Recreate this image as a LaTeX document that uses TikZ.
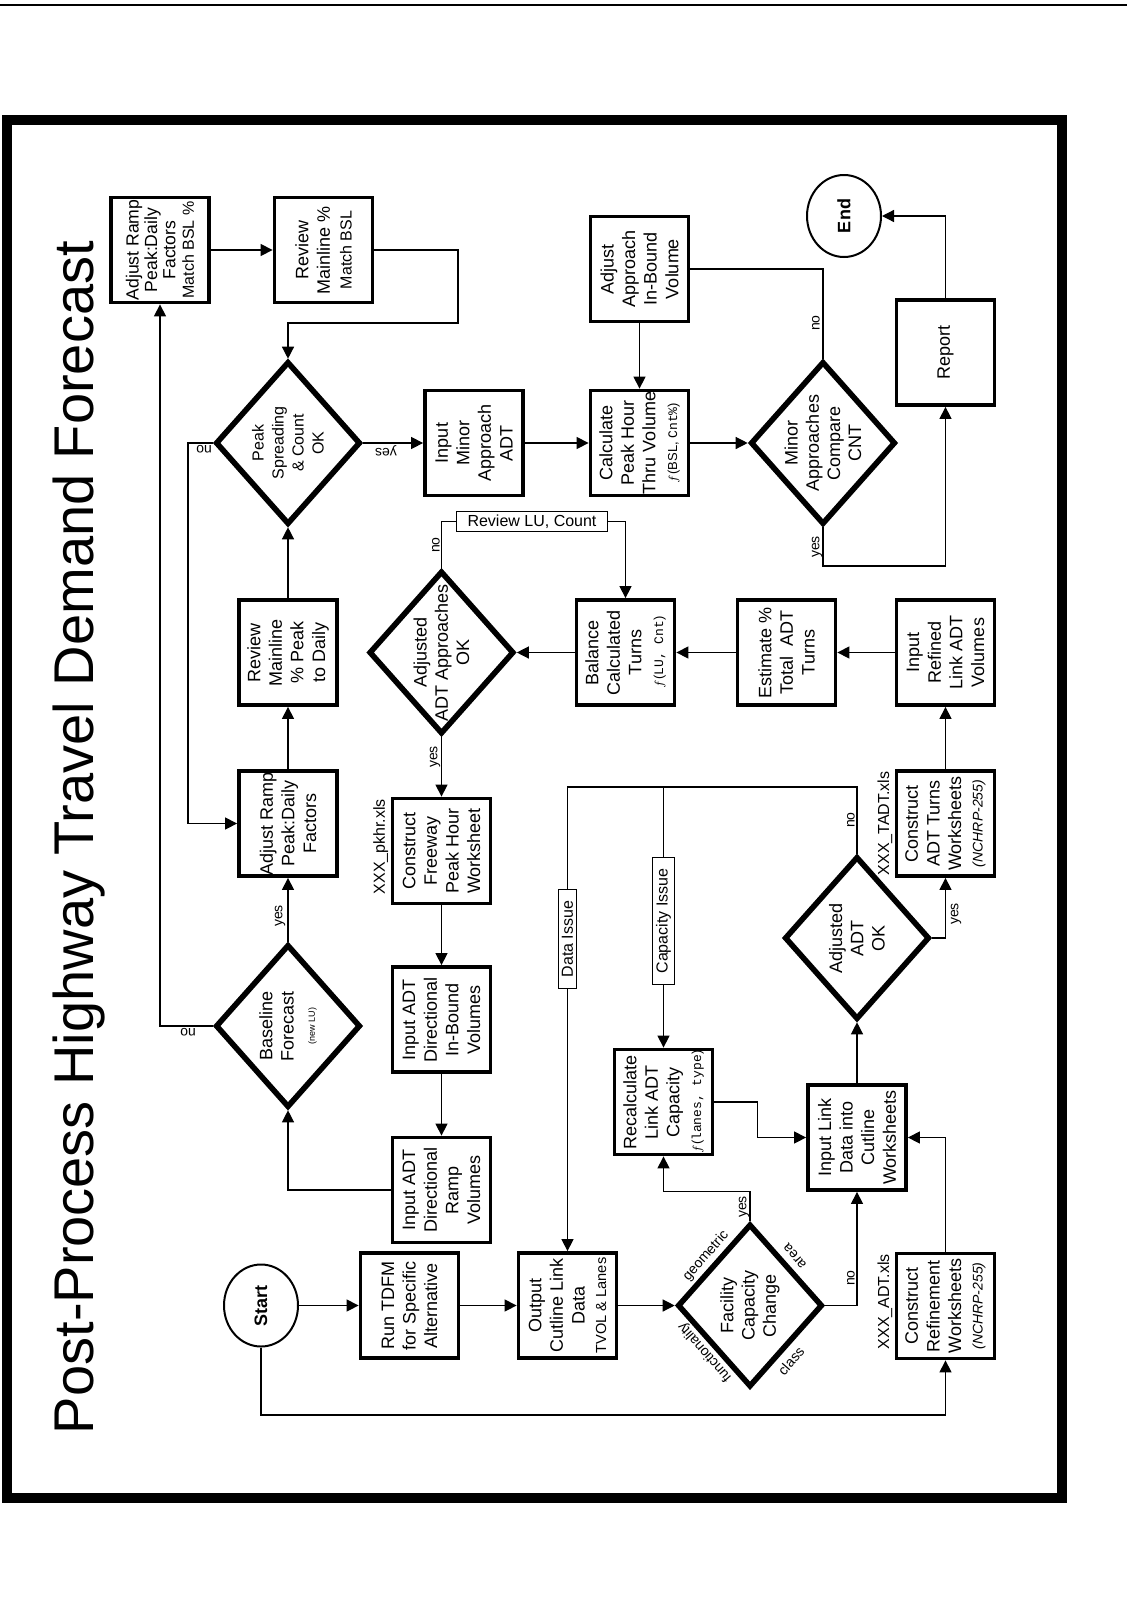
\documentclass[tikz,border=0pt]{standalone}
\usepackage{fontspec}
\setmainfont{Liberation Sans}
\setmonofont{Liberation Mono}
\usetikzlibrary{arrows.meta,shapes.geometric}

\begin{document}
\begin{tikzpicture}[x=0.5pt,y=-0.5pt,
  proc/.style={draw,line width=1.9pt,rotate=90,minimum width=52.5pt,minimum height=49pt,
    inner sep=0pt,align=center,font=\fontsize{9}{10.8}\selectfont},
  decision/.style={draw,diamond,line width=2.8pt,rotate=90,minimum width=81.5pt,
    minimum height=72.5pt,inner sep=0pt},
  dtext/.style={rotate=90,align=center,font=\fontsize{9}{10.6}\selectfont},
  terminal/.style={draw,ellipse,line width=1pt,rotate=90,minimum width=41pt,
    minimum height=37pt,inner sep=0pt,font=\fontsize{9}{10}\selectfont\bfseries},
  issue/.style={draw,line width=0.5pt,fill=white,inner xsep=5.5pt,inner ysep=1.6pt,
    font=\fontsize{8}{9.6}\selectfont},
  yn/.style={font=\fontsize{7}{8}\selectfont,inner sep=0pt},
  edgetxt/.style={font=\fontsize{7}{8}\selectfont,inner sep=0pt},
  xlsname/.style={rotate=90,anchor=south east,inner sep=1pt,font=\fontsize{8}{9.6}\selectfont},
  wire/.style={line width=0.65pt},
  arr/.style={wire,-{Triangle[length=6pt,width=6pt]}}]

\fill[white] (0,0) rectangle (1127,1606);
\useasboundingbox (0,0) rectangle (1127,1606);

\draw[line width=1pt] (0,5) -- (1127,5);
\draw[line width=5.2pt] (7,120) rectangle (1062,1498);

\node[rotate=90,anchor=base,inner sep=0pt,font=\fontsize{28}{32}\selectfont] (title)
  at (93,837.5) {Post-Process Highway Travel Demand Forecast};

% first row
\node[terminal] (start) at (261,1305.5) {Start};
\node[proc] (run) at (409.5,1305.5) {Run TDFM\\for Specific\\Alternative};
\node[proc] (cutline) at (567.5,1305.5) {Output\\Cutline Link\\Data\\{\fontsize{7.3}{8.5}\selectfont TVOL \& Lanes}};
\node[decision] (facil) at (750,1305.5) {};
\node[dtext] (facilT) at (facil) {Facility\\Capacity\\Change};
\node[proc] (refine) at (945.5,1306) {Construct\\Refinement\\Worksheets\\{\fontsize{7}{8}\selectfont\itshape (NCHRP-255)}};
\node[xlsname] (refineF) at (refine.north east) {XXX\_ADT.xls};

\node[edgetxt,rotate=49] (geo) at (706,1256) {geometric};
\node[edgetxt,rotate=131] (func) at (705,1352) {functionality};
\node[edgetxt,rotate=131] (area) at (795,1256) {area};
\node[edgetxt,rotate=49] (class) at (791,1361) {class};

% second row
\node[proc] (ramp) at (441.5,1190) {Input ADT\\Directional\\Ramp\\Volumes};
\node[proc] (recalc) at (663.5,1102) {Recalculate\\Link ADT\\Capacity\\{\fontsize{6.5}{7.8}\selectfont$f$(\texttt{lanes, type})}};
\node[proc] (inlink) at (857,1137.5) {Input Link\\Data into\\Cutline\\Worksheets};
\node[decision] (base) at (288,1026) {};
\node[dtext] (baseT) at (base) {Baseline\\Forecast\\{\fontsize{4.5}{5.5}\selectfont (new LU)}};
\node[proc] (inbound) at (441.5,1019.5) {Input ADT\\Directional\\In-Bound\\Volumes};
\node[issue,rotate=90] (dataiss) at (567.5,939) {Data Issue};
\node[issue,rotate=90] (capiss) at (663.5,921) {Capacity Issue};
\node[decision] (adjok) at (857,938) {};
\node[dtext] (adjokT) at (adjok) {Adjusted\\ADT\\OK};

% third row
\node[proc] (adjlow) at (288,823.5) {Adjust Ramp\\Peak:Daily\\Factors};
\node[proc] (freeway) at (441.5,851) {Construct\\Freeway\\Peak Hour\\Worksheet};
\node[xlsname] (freewayF) at (freeway.north east) {XXX\_pkhr.xls};
\node[proc] (turns) at (945.5,823.5) {Construct\\ADT Turns\\Worksheets\\{\fontsize{7}{8}\selectfont\itshape (NCHRP-255)}};
\node[xlsname] (turnsF) at (turns.north east) {XXX\_TADT.xls};

% fourth row
\node[proc] (revpk) at (288,652.5) {Review\\Mainline\\\% Peak\\to Daily};
\node[decision] (adjap) at (441.5,652.5) {};
\node[dtext] (adjapT) at (adjap) {Adjusted\\ADT Approaches\\OK};
\node[proc] (balance) at (625.5,652.5) {Balance\\Calculated\\Turns\\{\fontsize{6.5}{7.8}\selectfont$f$(\texttt{LU, Cnt})}};
\node[proc] (estim) at (786.5,652.5) {Estimate \%\\Total~ ADT\\Turns};
\node[proc] (refined) at (945.5,652.5) {Input\\Refined\\Link ADT\\Volumes};
\node[issue] (revlu) at (532,521.5) {Review LU, Count};

% fifth row
\node[decision] (peak) at (288,443) {};
\node[dtext,font=\fontsize{8}{10}\selectfont] (peakT) at (peak) {Peak\\Spreading\\\& Count\\OK};
\node[proc] (minor) at (474,443) {Input\\Minor\\Approach\\ADT};
\node[proc] (calc) at (639.5,443) {Calculate\\Peak Hour\\Thru Volume\\{\fontsize{6.5}{7.8}\selectfont$f$(BSL, \texttt{Cnt\%})}};
\node[decision] (minap) at (823,443) {};
\node[dtext] (minapT) at (minap) {Minor\\Approaches\\Compare\\CNT};
\node[proc] (report) at (945.5,352.5) {Report};

% top row
\node[proc,font=\fontsize{8.8}{9.2}\selectfont] (adjtop) at (160,250) {Adjust Ramp\\Peak:Daily\\Factors\\{\fontsize{8}{9}\selectfont Match BSL~\%}};
\node[proc] (revbsl) at (323.5,250) {Review\\Mainline \%\\{\fontsize{8}{9.6}\selectfont Match BSL}};
\node[proc] (adjapp) at (639.5,269) {Adjust\\Approach\\In-Bound\\Volume};
\node[terminal] (finish) at (844,216) {End};

\coordinate (startdn) at (261,1415);
\coordinate (rvturn) at (458,323);
\coordinate (nojoin) at (567.5,787);
\coordinate (capjoin) at (663.5,787);

% connectors
\draw[arr] (start) -- (run);
\draw[arr] (start) -- (startdn) -| (refine);
\draw[arr] (run) -- (cutline);
\draw[arr] (cutline) -- (facil);
\draw[arr] (facil.east) -- ++(0,-30) -| (recalc);
\draw[arr] (facil) -| (inlink);
\draw[arr] (refine) |- (inlink);
\draw[arr] (recalc.south) -- ++(43,0) |- (inlink);
\draw[arr] (inlink) -- (adjok);
\draw[arr] (adjok) -| (turns);
\draw[wire] (adjok) |- (nojoin) -- (dataiss);
\draw[arr] (dataiss) -- (cutline);
\draw[wire] (capjoin) -- (capiss);
\draw[arr] (capiss) -- (recalc);
\draw[arr] (turns) -- (refined);
\draw[arr] (refined) -- (estim);
\draw[arr] (estim) -- (balance);
\draw[arr] (balance) -- (adjap);
\draw[wire] (adjap) |- (revlu);
\draw[arr] (revlu) -| (balance);
\draw[arr] (adjap) -- (freeway);
\draw[arr] (freeway) -- (inbound);
\draw[arr] (inbound) -- (ramp);
\draw[arr] (ramp) -| (base);
\draw[arr] (base) -- (adjlow);
\draw[arr] (base) -| (adjtop);
\draw[arr] (adjlow) -- (revpk);
\draw[arr] (revpk) -- (peak);
\draw[arr] (peak) -- ++(-100,0) |- (adjlow);
\draw[arr] (peak) -- (minor);
\draw[arr] (minor) -- (calc);
\draw[arr] (adjapp) -- (calc);
\draw[arr] (calc) -- (minap);
\draw[wire] (minap) |- (adjapp);
\draw[arr] (minap) -- ++(0,123) -| (report);
\draw[arr] (report) |- (finish);
\draw[arr] (adjtop) -- (revbsl);
\draw[arr] (revbsl) -| (rvturn) -| (peak);

% yes / no
\node[yn,rotate=180] (no1) at (204,449) {no};
\node[yn,rotate=180] (yes1) at (386,451) {yes};
\node[yn,rotate=180] (no2) at (188,1032) {no};
\node[yn,rotate=90] (yes2) at (280,916) {yes};
\node[yn,rotate=90] (no3) at (436,545) {no};
\node[yn,rotate=90] (yes3) at (435,757) {yes};
\node[yn,rotate=90] (no4) at (816,323) {no};
\node[yn,rotate=90] (yes4) at (817,547) {yes};
\node[yn,rotate=90] (no5) at (851,820) {no};
\node[yn,rotate=90] (yes5) at (956,914) {yes};
\node[yn,rotate=90] (yes6) at (744,1207) {yes};
\node[yn,rotate=90] (no6) at (851,1278) {no};
\end{tikzpicture}
\end{document}
